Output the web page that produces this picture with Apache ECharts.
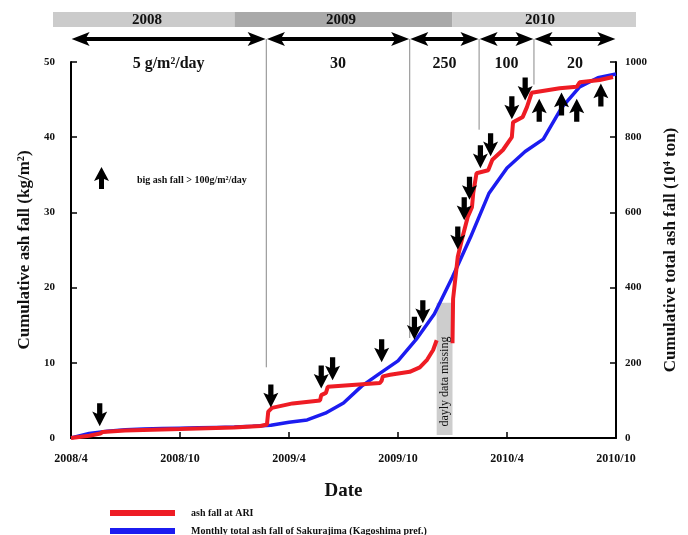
<!DOCTYPE html>
<html>
<head>
<meta charset="utf-8">
<script src="https://cdn.jsdelivr.net/npm/echarts@6/dist/echarts.min.js"></script>
<style>
html,body{margin:0;padding:0;background:#fff;}
#chart{width:688px;height:535px;}
</style>
</head>
<body>
<div id="chart"></div>
<script>
// ---------------- DATA ----------------
var xTickLabels = ['2008/4', '2008/10', '2009/4', '2009/10', '2010/4', '2010/10'];
var leftTickMax = 50;
var rightTickMax = 1000;

// Cumulative ash fall at ARI (kg/m2), null = daily data missing
var redDates = ['2008-04-01','2008-05-01','2008-05-20','2008-05-24','2008-06-30','2008-10-01','2008-12-31',
  '2009-02-13','2009-02-23','2009-02-25','2009-03-03','2009-04-07','2009-05-23','2009-05-25','2009-06-02',
  '2009-06-05','2009-09-01','2009-09-04','2009-09-06','2009-09-18','2009-10-21','2009-11-07','2009-11-19',
  '2009-11-29','2009-12-05','2009-12-20',
  '2010-01-01','2010-01-02','2010-01-10','2010-01-18','2010-01-27','2010-02-03','2010-02-05','2010-02-10',
  '2010-02-28','2010-03-07','2010-03-25','2010-04-09','2010-04-11','2010-04-27','2010-05-04','2010-05-12',
  '2010-05-20','2010-06-28','2010-07-27','2010-08-01','2010-09-04','2010-09-26'];
var redValues = [0,0.3,0.6,0.8,1.0,1.2,1.4,
  1.6,1.8,3.5,4.0,4.6,5.0,5.7,6.0,
  6.8,7.3,7.6,8.2,8.4,8.8,9.4,10.4,
  11.7,13.0,null,
  12.6,18.5,24.1,26.7,29.4,30.7,32.6,35.2,
  35.6,37.0,38.3,40.0,42.0,42.7,44.0,45.9,
  46.0,46.5,46.7,47.3,47.6,48.0];

// Monthly cumulative total ash fall of Sakurajima (10^4 ton)
var blueDates = ['2008-04-01','2008-05-01','2008-06-01','2008-07-01','2008-08-01','2008-09-01','2008-10-01',
  '2008-11-01','2008-12-01','2009-01-01','2009-02-01','2009-03-01','2009-04-01','2009-05-01','2009-06-01',
  '2009-07-01','2009-08-01','2009-09-01','2009-10-01','2009-11-01','2009-12-01','2010-01-01','2010-02-01',
  '2010-03-01','2010-04-01','2010-05-01','2010-06-01','2010-07-01','2010-08-01','2010-09-01','2010-10-01'];
var blueValues = [0,12,18,22,24,25,26,27,28,29,31,34,42,48,66,93,138,172,205,262,330,428,535,650,718,762,795,878,934,958,968];

// Big ash fall events (> 100 g/m2/day), arrow centre positions in (date, kg/m2)
var downArrowDates = ['2008-05-19','2009-03-01','2009-05-25','2009-06-13','2009-09-04','2009-10-29','2009-11-12',
  '2010-01-10','2010-01-21','2010-01-30','2010-02-16','2010-03-04','2010-04-09','2010-05-01'];
var downArrowValues = [3.1,5.6,8.1,9.2,11.6,14.6,16.8,26.6,30.5,33.2,37.4,39.0,43.9,46.4];
var upArrowDates = ['2010-05-25','2010-07-01','2010-07-27','2010-09-06'];
var upArrowValues = [43.6,44.4,43.6,45.6];

// Deposition-rate periods
var periodStarts = ['2008-04-02','2009-02-23','2009-10-22','2010-02-15','2010-05-17'];
var periodEnds   = ['2009-02-21','2009-10-20','2010-02-13','2010-05-15','2010-09-30'];
var periodLabels = ['5 g/m\u00b2/day','30','250','100','20'];
var dividerDates = ['2009-02-22','2009-10-21','2010-02-14','2010-05-16'];
var dividerEndValues = [9.4,13.3,41,47];

var yearLabels = ['2008','2009','2010'];
var missingStart = '2009-12-05', missingEnd = '2010-01-01', missingTop = 18;

// -------------- helpers --------------
function toM(s){
  var p = s.split('-').map(Number);
  var dim = new Date(p[0], p[1], 0).getDate();
  return (p[0]-2008)*12 + (p[1]-4) + (p[2]-1)/dim;
}
var FONT = '"Liberation Serif","DejaVu Serif",serif';
var arrowPath = 'path://M10,0 L20,14 L13.5,12 L13.5,22 L6.5,22 L6.5,12 L0,14 Z';

var redData = redDates.map(function(d,i){ return [toM(d), redValues[i]]; });
var blueData = blueDates.map(function(d,i){ return [toM(d), blueValues[i]]; });
var downData = downArrowDates.map(function(d,i){ return [toM(d), downArrowValues[i]]; });
var upData = upArrowDates.map(function(d,i){ return [toM(d), upArrowValues[i]]; });

var legendText = {fontFamily:FONT, fontWeight:'bold', fontSize:10, color:'#111', padding:[0,0,0,11]};
var chart = echarts.init(document.getElementById('chart'), null, {renderer:'canvas'});
var option = {
  animation:false,
  backgroundColor:'#fff',
  grid:{left:71, right:72, top:62, bottom:97},
  legend:[{
    data:['ash fall at ARI'], left:105, top:503, itemWidth:65, itemHeight:6,
    icon:'rect', textStyle:legendText
  },{
    data:['Monthly total ash fall of Sakurajima (Kagoshima pref.)'], left:105, top:521, itemWidth:65, itemHeight:6,
    icon:'rect', textStyle:legendText
  }],
  xAxis:{
    type:'value', min:0, max:30, interval:6,
    name:'Date', nameLocation:'middle', nameGap:44,
    nameTextStyle:{fontFamily:FONT, fontWeight:'bold', fontSize:19, color:'#111'},
    axisLine:{lineStyle:{color:'#000', width:2}},
    axisTick:{inside:true, length:6, lineStyle:{color:'#000', width:1.5}},
    axisLabel:{margin:15, fontFamily:FONT, fontWeight:'bold', fontSize:12, color:'#111',
      formatter:function(v){ return xTickLabels[Math.round(v/6)]; }},
    splitLine:{show:false}
  },
  yAxis:[{
    type:'value', min:0, max:leftTickMax, interval:10,
    name:'Cumulative ash fall (kg/m\u00b2)', nameLocation:'middle', nameGap:30, nameRotate:90,
    nameTextStyle:{fontFamily:FONT, fontWeight:'bold', fontSize:17, color:'#111'},
    axisLine:{show:true, lineStyle:{color:'#000', width:2}},
    axisTick:{show:true, inside:true, length:6, lineStyle:{color:'#000', width:1.5}},
    axisLabel:{margin:16, fontFamily:FONT, fontWeight:'bold', fontSize:11, color:'#111'},
    splitLine:{show:false}
  },{
    type:'value', min:0, max:rightTickMax, interval:200, position:'right',
    name:'Cumulative total ash fall (10\u2074 ton)', nameLocation:'middle', nameGap:46, nameRotate:90,
    nameTextStyle:{fontFamily:FONT, fontWeight:'bold', fontSize:17, color:'#111'},
    axisLine:{show:true, lineStyle:{color:'#000', width:2}},
    axisTick:{show:true, inside:true, length:6, lineStyle:{color:'#000', width:1.5}},
    axisLabel:{margin:9, fontFamily:FONT, fontWeight:'bold', fontSize:11, color:'#111',
      formatter:function(v){ return String(v); }},
    splitLine:{show:false}
  }],
  series:[
    {
      name:'Monthly total ash fall of Sakurajima (Kagoshima pref.)', type:'line', yAxisIndex:1,
      data:blueData, showSymbol:false, color:'#1c1cf0',
      lineStyle:{width:3.5, color:'#1c1cf0'}, z:3,
      markArea:{silent:true, itemStyle:{color:'#cdcdcd'},
        data:[[{xAxis:toM(missingStart), yAxis:8}, {xAxis:toM(missingEnd), yAxis:missingTop*20}]]}
    },
    {
      name:'ash fall at ARI', type:'line', yAxisIndex:0, connectNulls:false,
      data:redData, showSymbol:false, color:'#ee1c24',
      lineStyle:{width:4, color:'#ee1c24'}, z:4
    },
    {
      name:'down', type:'scatter', yAxisIndex:0, data:downData, symbol:arrowPath,
      symbolSize:[15,23], symbolRotate:180, itemStyle:{color:'#000', opacity:1}, z:6, silent:true
    },
    {
      name:'up', type:'scatter', yAxisIndex:0, data:upData, symbol:arrowPath,
      symbolSize:[15,23], itemStyle:{color:'#000', opacity:1}, z:6, silent:true
    }
  ]
};
chart.setOption(option);

// ---------- decorations positioned through the axes ----------
function px(m, v){ return chart.convertToPixel({xAxisIndex:0, yAxisIndex:0}, [m, v]); }
var g = [];
var bandTop = 12, bandH = 15;
var bx = [53, px(toM('2009-01-01'),0)[0], px(toM('2010-01-01'),0)[0], 636];
var bandColors = ['#cbcbcb','#a9a9a9','#cfcfcf'];
var yearCenters = [147, 341, 540];
for (var i=0;i<3;i++){
  g.push({type:'rect', shape:{x:bx[i], y:bandTop, width:bx[i+1]-bx[i], height:bandH}, style:{fill:bandColors[i]}, z:1});
  g.push({type:'text', x:yearCenters[i], y:bandTop+bandH/2+1, style:{text:yearLabels[i], fill:'#111', font:'bold 15px '+FONT, textAlign:'center', textVerticalAlign:'middle'}, z:2});
}
var ay = 39;
for (var j=0;j<periodStarts.length;j++){
  var x1 = px(toM(periodStarts[j]),0)[0], x2 = px(toM(periodEnds[j]),0)[0];
  var hl = Math.min(18, (x2-x1)/3);
  g.push({type:'polygon', shape:{points:[[x1,ay],[x1+hl,ay-7],[x1+hl-3,ay-2],[x2-hl+3,ay-2],[x2-hl,ay-7],[x2,ay],[x2-hl,ay+7],[x2-hl+3,ay+2],[x1+hl-3,ay+2],[x1+hl,ay+7]]}, style:{fill:'#000'}, z:2});
  g.push({type:'text', x:(x1+x2)/2, y:64, style:{text:periodLabels[j], fill:'#111', font:'bold 16px '+FONT, textAlign:'center', textVerticalAlign:'middle'}, z:2});
}
for (var k=0;k<dividerDates.length;k++){
  var p = px(toM(dividerDates[k]), dividerEndValues[k]);
  g.push({type:'line', shape:{x1:p[0], y1:ay, x2:p[0], y2:p[1]}, style:{stroke:'#888', lineWidth:1}, z:1});
}
var mc = px((toM(missingStart)+toM(missingEnd))/2, 7.5);
g.push({type:'text', x:mc[0], y:mc[1], rotation:Math.PI/2, style:{text:'dayly data missing', fill:'#111', font:'12px '+FONT, textAlign:'center', textVerticalAlign:'middle'}, z:5});
var lx = 94, ly = 167;
g.push({type:'polygon', shape:{points:[[lx+7.5,ly],[lx+15,ly+14],[lx+10,ly+12],[lx+10,ly+22],[lx+5,ly+22],[lx+5,ly+12],[lx,ly+14]]}, style:{fill:'#000'}, z:5});
g.push({type:'text', x:137, y:180, style:{text:'big ash fall > 100g/m\u00b2/day', fill:'#111', font:'bold 10px '+FONT, textAlign:'left', textVerticalAlign:'middle'}, z:5});
chart.setOption({graphic:g});
</script>
</body>
</html>
